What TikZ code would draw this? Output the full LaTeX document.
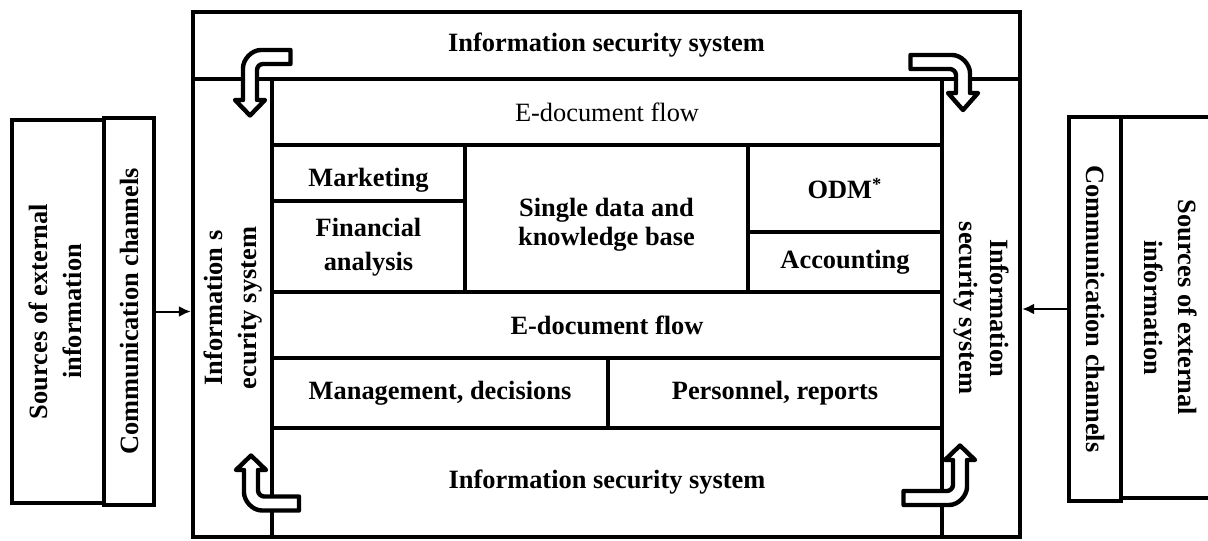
\documentclass[tikz,border=0pt]{standalone}
\usepackage{fontspec}
\setmainfont{Liberation Serif}
\usetikzlibrary{arrows.meta}
\newcommand{\twolines}[1]{\begin{tabular}{@{}c@{}}#1\end{tabular}}
\newcommand{\cellnode}[7][]{%
  \node[cellsty,#1,minimum width={(#4-#2)/2*1pt},minimum height={(#5-#3)/2*1pt}]
    (#6) at ({(#2+#4)/2},{(#3+#5)/2}) {#7};}
\begin{document}
\begin{tikzpicture}[x=0.5pt,y=-0.5pt,
  cellsty/.style={draw=black,line width=2.3pt,inner sep=0pt,outer sep=0pt,
    font=\fontsize{13.2}{16}\selectfont\bfseries,align=center},
  lbl/.style={inner sep=0pt,font=\fontsize{13.2}{16}\selectfont\bfseries,align=center},
  bentarrow/.style={draw=black,fill=white,line width=2.2pt,line join=round},
  feed/.style={line width=1pt,-{Latex[length=6pt,width=5.5pt]},shorten >=1.1pt}]
\useasboundingbox (0,0) rectangle (1208,540);
\renewcommand{\arraystretch}{1.05}
% outer frame
\cellnode{193}{12}{1020}{537}{outer}{}
\cellnode{193}{12}{1020}{79}{topIS}{Information security system}
\cellnode{193}{79}{272}{537}{leftIS}{\rotatebox{90}{\twolines{Information s\\ecurity system}}}
\cellnode{942}{79}{1020}{537}{rightIS}{\rotatebox{-90}{\renewcommand{\arraystretch}{0.95}\twolines{Information\\security system}}}
% inner cells
\cellnode[font=\fontsize{13.2}{16}\selectfont]{272}{79}{942}{145}{edocA}{E-document flow}
\cellnode{272}{145}{465}{201}{mkt}{}
\node[lbl] (mktT) at (368.5,180) {Marketing};
\cellnode{272}{201}{465}{292}{fin}{\twolines{Financial\\analysis}}
\cellnode{465}{145}{748}{292}{sdkb}{}
\node[lbl] (sdkbT) at (606.5,225) {\renewcommand{\arraystretch}{0.9}\twolines{Single data and\\knowledge base}};
\cellnode{748}{145}{942}{232}{odm}{ODM\textsuperscript{*}}
\cellnode{748}{232}{942}{292}{acc}{Accounting}
\cellnode{272}{292}{942}{358}{edocB}{E-document flow}
\cellnode{272}{358}{608}{428}{mgmt}{Management, decisions}
\cellnode{608}{358}{942}{428}{pers}{Personnel, reports}
\cellnode{272}{428}{942}{537}{botIS}{Information security system}
% side boxes
\cellnode{12}{120}{104}{503}{srcL}{\rotatebox{90}{\twolines{Sources of external\\information}}}
\cellnode{104}{118}{154}{505}{commL}{\rotatebox{90}{Communication channels}}
\cellnode{1069}{117}{1121}{501}{commR}{\rotatebox{-90}{Communication channels}}
\cellnode{1121}{117}{1215}{498}{srcR}{\rotatebox{-90}{\twolines{Sources of external\\information}}}
% feed arrows
\draw[feed] (commL.east) -- (commL.east -| outer.west);
\draw[feed] (commR.west) -- (commR.west -| outer.east);
% bent arrows
\draw[bentarrow] (290.5,50) -- (261,50) .. controls (251.1,50) and (243,59.9) .. (243,68) -- (243,100)
  -- (235,100) -- (250,115.5) -- (265,100) -- (257,100) -- (257,70)
  .. controls (257,66.7) and (259.7,64) .. (263,64) -- (290.5,64) -- cycle;
\draw[bentarrow] (910.5,55) -- (952,55) .. controls (961.9,55) and (970,64.9) .. (970,73) -- (970,93)
  -- (978,93) -- (963,110) -- (948,93) -- (956,93) -- (956,75)
  .. controls (956,71.7) and (952.7,69) .. (950,69) -- (910.5,69) -- cycle;
\draw[bentarrow] (299,510.5) -- (262,510.5) .. controls (252.1,510.5) and (244,500.6) .. (244,492.5) -- (244,470)
  -- (236,470) -- (251,455.5) -- (266,470) -- (258,470) -- (258,490.5)
  .. controls (258,493.8) and (261.3,496.5) .. (264,496.5) -- (299,496.5) -- cycle;
\draw[bentarrow] (903.5,505) -- (949,505) .. controls (958.9,505) and (967,495.1) .. (967,487) -- (967,460)
  -- (975,460) -- (960,445.5) -- (945,460) -- (953,460) -- (953,485)
  .. controls (953,488.3) and (949.7,491) .. (947,491) -- (903.5,491) -- cycle;
\end{tikzpicture}
\end{document}
